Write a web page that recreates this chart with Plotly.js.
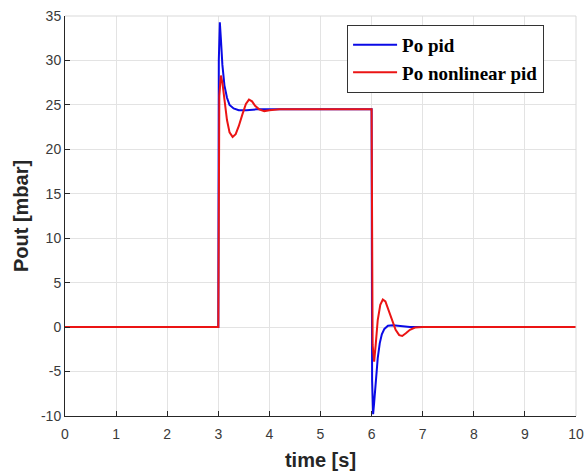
<!DOCTYPE html>
<html>
<head>
<meta charset="utf-8">
<script src="https://cdn.plot.ly/plotly-3.0.1.min.js"></script>
<style>html,body{margin:0;padding:0;background:#fff;}#chart{width:584px;height:472px;}</style>
</head>
<body>
<div id="chart"></div>
<script>
// Po pid (blue)
const tPid = [0, 3.0, 3.01, 3.03, 3.05, 3.08, 3.12, 3.17, 3.22, 3.3, 3.4, 3.55, 3.75, 4.0, 5.0, 6.0, 6.01, 6.03, 6.05, 6.08, 6.12, 6.16, 6.2, 6.25, 6.32, 6.42, 6.55, 6.75, 7.0, 8.0, 10.0];
const yPid = [0, 0, 30.0, 34.3, 32.5, 29.5, 27.2, 25.8, 25.0, 24.6, 24.4, 24.4, 24.5, 24.5, 24.5, 24.5, -6.0, -9.8, -8.5, -6.0, -3.5, -1.8, -0.8, -0.2, 0.15, 0.2, 0.1, 0.0, 0, 0, 0];
// Po nonlinear pid (red)
const tNl = [0, 3.0, 3.02, 3.05, 3.08, 3.12, 3.17, 3.22, 3.28, 3.34, 3.4, 3.47, 3.54, 3.6, 3.66, 3.72, 3.8, 3.9, 4.0, 4.2, 5.0, 6.0, 6.02, 6.05, 6.08, 6.12, 6.17, 6.22, 6.27, 6.33, 6.4, 6.47, 6.54, 6.6, 6.67, 6.75, 6.85, 7.0, 8.0, 10.0];
const yNl = [0, 0, 26.0, 28.3, 27.5, 25.5, 23.3, 21.9, 21.4, 21.7, 22.6, 23.9, 25.1, 25.6, 25.4, 24.9, 24.5, 24.3, 24.4, 24.5, 24.5, 24.5, -2.0, -3.9, -2.0, 0.8, 2.5, 3.1, 2.9, 2.0, 0.8, -0.3, -0.9, -1.0, -0.7, -0.3, -0.05, 0, 0, 0];
const seriesNames = ["Po pid", "Po nonlinear pid"];
const xTicks = [0,1,2,3,4,5,6,7,8,9,10];
const yTicks = [-10,-5,0,5,10,15,20,25,30,35];

const traces = [
  {x: tPid, y: yPid, name: seriesNames[0], mode: "lines", line: {color: "rgb(10,10,230)", width: 2}},
  {x: tNl, y: yNl, name: seriesNames[1], mode: "lines", line: {color: "rgb(235,20,20)", width: 2}}
];
const axisFont = {family: "Liberation Sans, Arial, sans-serif", size: 14, color: "#3a3a3a"};
const titleFont = {family: "Liberation Sans, Arial, sans-serif", size: 20, color: "#262626", weight: "bold"};
const layout = {
  width: 584, height: 472,
  margin: {l: 65, r: 8, t: 16, b: 56},
  paper_bgcolor: "#fff", plot_bgcolor: "#fff",
  showlegend: true,
  legend: {
    x: 0.552, y: 0.978, xanchor: "left", yanchor: "top",
    bgcolor: "#fff", bordercolor: "#333", borderwidth: 1,
    font: {family: "Liberation Serif, Times New Roman, serif", size: 19, color: "#000", weight: "bold"},
    tracegroupgap: 0, itemwidth: 44
  },
  xaxis: {
    range: [0, 10], tickvals: xTicks, ticktext: xTicks.map(String),
    showgrid: true, gridcolor: "#e3e3e3", gridwidth: 1,
    showline: true, linecolor: "#262626", linewidth: 1,
    ticks: "inside", ticklen: 5, tickcolor: "#262626",
    ticklabelstandoff: 5,
    zeroline: false, tickfont: axisFont,
    title: {text: "time [s]", font: titleFont, standoff: 12}
  },
  yaxis: {
    range: [-10, 35], tickvals: yTicks, ticktext: yTicks.map(String),
    showgrid: true, gridcolor: "#e3e3e3", gridwidth: 1,
    showline: true, linecolor: "#262626", linewidth: 1,
    ticks: "inside", ticklen: 5, tickcolor: "#262626",
    zeroline: false, tickfont: axisFont,
    title: {text: "Pout [mbar]", font: titleFont, standoff: 6}
  },
  shapes: [
    {type: "line", xref: "paper", yref: "paper", x0: 0, x1: 1, y0: 1, y1: 1, line: {color: "#d9d9d9", width: 1}},
    {type: "line", xref: "paper", yref: "paper", x0: 1, x1: 1, y0: 0, y1: 1, line: {color: "#d9d9d9", width: 1}}
  ]
};
Plotly.newPlot("chart", traces, layout, {displayModeBar: false, staticPlot: true});
</script>
</body>
</html>
